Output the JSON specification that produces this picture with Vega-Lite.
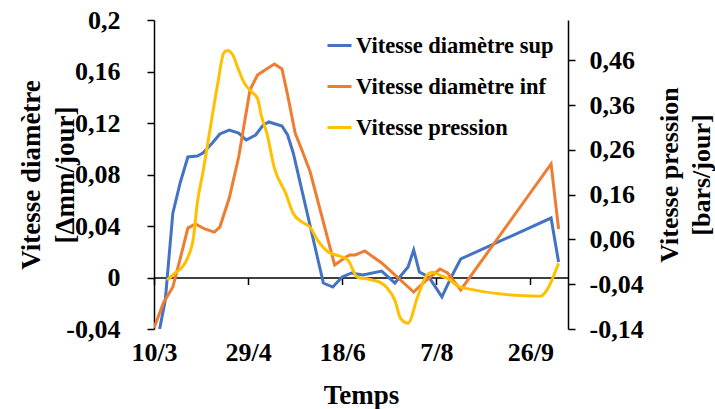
{
  "$schema": "https://vega.github.io/schema/vega-lite/v6.json",
  "width": 414,
  "height": 309,
  "autosize": {"type": "none"},
  "padding": {"left": 154, "top": 20, "right": 147, "bottom": 80},
  "background": "white",
  "config": {
    "font": "Liberation Serif",
    "view": {"stroke": null},
    "axis": {"grid": false, "domainColor": "black", "tickColor": "black", "labelColor": "black", "titleColor": "black", "labelFont": "Liberation Serif", "titleFont": "Liberation Serif", "labelFontWeight": "bold", "titleFontWeight": "bold", "labelFontSize": 26, "titleFontSize": 27, "domainWidth": 1.5, "tickWidth": 1.5}
  },
  "data": {
    "values": [
      {"d": "2019-03-13", "s": "Vitesse diamètre sup", "v": -0.04},
      {"d": "2019-03-16", "s": "Vitesse diamètre sup", "v": -0.0175},
      {"d": "2019-03-20", "s": "Vitesse diamètre sup", "v": 0.05},
      {"d": "2019-03-24", "s": "Vitesse diamètre sup", "v": 0.074},
      {"d": "2019-03-28", "s": "Vitesse diamètre sup", "v": 0.0936},
      {"d": "2019-04-02", "s": "Vitesse diamètre sup", "v": 0.0944},
      {"d": "2019-04-05", "s": "Vitesse diamètre sup", "v": 0.0967},
      {"d": "2019-04-10", "s": "Vitesse diamètre sup", "v": 0.1045},
      {"d": "2019-04-14", "s": "Vitesse diamètre sup", "v": 0.1115},
      {"d": "2019-04-19", "s": "Vitesse diamètre sup", "v": 0.1145},
      {"d": "2019-04-24", "s": "Vitesse diamètre sup", "v": 0.1122},
      {"d": "2019-04-28", "s": "Vitesse diamètre sup", "v": 0.1068},
      {"d": "2019-05-03", "s": "Vitesse diamètre sup", "v": 0.1107},
      {"d": "2019-05-07", "s": "Vitesse diamètre sup", "v": 0.1184},
      {"d": "2019-05-10", "s": "Vitesse diamètre sup", "v": 0.1208},
      {"d": "2019-05-17", "s": "Vitesse diamètre sup", "v": 0.1177},
      {"d": "2019-05-20", "s": "Vitesse diamètre sup", "v": 0.1107},
      {"d": "2019-05-23", "s": "Vitesse diamètre sup", "v": 0.0967},
      {"d": "2019-06-08", "s": "Vitesse diamètre sup", "v": -0.0043},
      {"d": "2019-06-13", "s": "Vitesse diamètre sup", "v": -0.0074},
      {"d": "2019-06-18", "s": "Vitesse diamètre sup", "v": 0.0004},
      {"d": "2019-06-23", "s": "Vitesse diamètre sup", "v": 0.0035},
      {"d": "2019-06-29", "s": "Vitesse diamètre sup", "v": 0.0019},
      {"d": "2019-07-09", "s": "Vitesse diamètre sup", "v": 0.005},
      {"d": "2019-07-16", "s": "Vitesse diamètre sup", "v": -0.0043},
      {"d": "2019-07-23", "s": "Vitesse diamètre sup", "v": 0.0082},
      {"d": "2019-07-26", "s": "Vitesse diamètre sup", "v": 0.0214},
      {"d": "2019-07-29", "s": "Vitesse diamètre sup", "v": 0.0043},
      {"d": "2019-08-03", "s": "Vitesse diamètre sup", "v": 0.0004},
      {"d": "2019-08-10", "s": "Vitesse diamètre sup", "v": -0.0151},
      {"d": "2019-08-15", "s": "Vitesse diamètre sup", "v": 0.0004},
      {"d": "2019-08-20", "s": "Vitesse diamètre sup", "v": 0.0144},
      {"d": "2019-10-07", "s": "Vitesse diamètre sup", "v": 0.0462},
      {"d": "2019-10-11", "s": "Vitesse diamètre sup", "v": 0.012},
      {"d": "2019-03-10", "s": "Vitesse diamètre inf", "v": -0.0392},
      {"d": "2019-03-15", "s": "Vitesse diamètre inf", "v": -0.0198},
      {"d": "2019-03-20", "s": "Vitesse diamètre inf", "v": -0.0074},
      {"d": "2019-03-24", "s": "Vitesse diamètre inf", "v": 0.0151},
      {"d": "2019-03-28", "s": "Vitesse diamètre inf", "v": 0.0384},
      {"d": "2019-04-01", "s": "Vitesse diamètre inf", "v": 0.0416},
      {"d": "2019-04-06", "s": "Vitesse diamètre inf", "v": 0.0377},
      {"d": "2019-04-11", "s": "Vitesse diamètre inf", "v": 0.0353},
      {"d": "2019-04-14", "s": "Vitesse diamètre inf", "v": 0.0392},
      {"d": "2019-04-19", "s": "Vitesse diamètre inf", "v": 0.0617},
      {"d": "2019-04-24", "s": "Vitesse diamètre inf", "v": 0.0936},
      {"d": "2019-04-30", "s": "Vitesse diamètre inf", "v": 0.1456},
      {"d": "2019-05-04", "s": "Vitesse diamètre inf", "v": 0.1573},
      {"d": "2019-05-08", "s": "Vitesse diamètre inf", "v": 0.1612},
      {"d": "2019-05-13", "s": "Vitesse diamètre inf", "v": 0.1658},
      {"d": "2019-05-17", "s": "Vitesse diamètre inf", "v": 0.162},
      {"d": "2019-05-20", "s": "Vitesse diamètre inf", "v": 0.1418},
      {"d": "2019-05-24", "s": "Vitesse diamètre inf", "v": 0.1122},
      {"d": "2019-05-28", "s": "Vitesse diamètre inf", "v": 0.0975},
      {"d": "2019-06-01", "s": "Vitesse diamètre inf", "v": 0.0819},
      {"d": "2019-06-14", "s": "Vitesse diamètre inf", "v": 0.0097},
      {"d": "2019-06-20", "s": "Vitesse diamètre inf", "v": 0.0159},
      {"d": "2019-06-22", "s": "Vitesse diamètre inf", "v": 0.0175},
      {"d": "2019-06-25", "s": "Vitesse diamètre inf", "v": 0.0175},
      {"d": "2019-06-30", "s": "Vitesse diamètre inf", "v": 0.0206},
      {"d": "2019-07-09", "s": "Vitesse diamètre inf", "v": 0.0113},
      {"d": "2019-07-26", "s": "Vitesse diamètre inf", "v": -0.0113},
      {"d": "2019-07-31", "s": "Vitesse diamètre inf", "v": -0.0043},
      {"d": "2019-08-09", "s": "Vitesse diamètre inf", "v": 0.0066},
      {"d": "2019-08-13", "s": "Vitesse diamètre inf", "v": 0.0035},
      {"d": "2019-08-20", "s": "Vitesse diamètre inf", "v": -0.0097},
      {"d": "2019-10-07", "s": "Vitesse diamètre inf", "v": 0.0882},
      {"d": "2019-10-11", "s": "Vitesse diamètre inf", "v": 0.0377},
      {"d": "2019-03-17", "s": "Vitesse pression", "v": -0.031},
      {"d": "2019-03-21", "s": "Vitesse pression", "v": -0.0155},
      {"d": "2019-03-25", "s": "Vitesse pression", "v": -0.002},
      {"d": "2019-03-28", "s": "Vitesse pression", "v": 0.02},
      {"d": "2019-03-31", "s": "Vitesse pression", "v": 0.065},
      {"d": "2019-04-02", "s": "Vitesse pression", "v": 0.141},
      {"d": "2019-04-05", "s": "Vitesse pression", "v": 0.21},
      {"d": "2019-04-10", "s": "Vitesse pression", "v": 0.337},
      {"d": "2019-04-13", "s": "Vitesse pression", "v": 0.411},
      {"d": "2019-04-16", "s": "Vitesse pression", "v": 0.476},
      {"d": "2019-04-18", "s": "Vitesse pression", "v": 0.482},
      {"d": "2019-04-21", "s": "Vitesse pression", "v": 0.471},
      {"d": "2019-04-24", "s": "Vitesse pression", "v": 0.438},
      {"d": "2019-04-27", "s": "Vitesse pression", "v": 0.409},
      {"d": "2019-05-01", "s": "Vitesse pression", "v": 0.389},
      {"d": "2019-05-04", "s": "Vitesse pression", "v": 0.375},
      {"d": "2019-05-06", "s": "Vitesse pression", "v": 0.337},
      {"d": "2019-05-09", "s": "Vitesse pression", "v": 0.297},
      {"d": "2019-05-13", "s": "Vitesse pression", "v": 0.219},
      {"d": "2019-05-19", "s": "Vitesse pression", "v": 0.163},
      {"d": "2019-05-23", "s": "Vitesse pression", "v": 0.118},
      {"d": "2019-05-28", "s": "Vitesse pression", "v": 0.098},
      {"d": "2019-06-01", "s": "Vitesse pression", "v": 0.087},
      {"d": "2019-06-05", "s": "Vitesse pression", "v": 0.058},
      {"d": "2019-06-11", "s": "Vitesse pression", "v": 0.031},
      {"d": "2019-06-15", "s": "Vitesse pression", "v": 0.025},
      {"d": "2019-06-21", "s": "Vitesse pression", "v": 0.014},
      {"d": "2019-06-26", "s": "Vitesse pression", "v": -0.024},
      {"d": "2019-07-02", "s": "Vitesse pression", "v": -0.029},
      {"d": "2019-07-08", "s": "Vitesse pression", "v": -0.0355},
      {"d": "2019-07-12", "s": "Vitesse pression", "v": -0.049},
      {"d": "2019-07-16", "s": "Vitesse pression", "v": -0.076},
      {"d": "2019-07-19", "s": "Vitesse pression", "v": -0.116},
      {"d": "2019-07-23", "s": "Vitesse pression", "v": -0.127},
      {"d": "2019-07-28", "s": "Vitesse pression", "v": -0.069},
      {"d": "2019-08-02", "s": "Vitesse pression", "v": -0.02},
      {"d": "2019-08-05", "s": "Vitesse pression", "v": -0.013},
      {"d": "2019-08-09", "s": "Vitesse pression", "v": -0.02},
      {"d": "2019-08-13", "s": "Vitesse pression", "v": -0.027},
      {"d": "2019-08-20", "s": "Vitesse pression", "v": -0.047},
      {"d": "2019-10-01", "s": "Vitesse pression", "v": -0.067},
      {"d": "2019-10-11", "s": "Vitesse pression", "v": 0.007}
    ]
  },
  "encoding": {
    "x": {
      "field": "d",
      "type": "temporal",
      "scale": {"type": "utc", "domain": [{"year": 2019, "month": 3, "date": 10, "utc": true}, {"year": 2019, "month": 10, "date": 16, "utc": true}]},
      "axis": {
        "orient": "bottom",
        "offset": -51.5,
        "values": [
          {"year": 2019, "month": 3, "date": 10, "utc": true},
          {"year": 2019, "month": 4, "date": 29, "utc": true},
          {"year": 2019, "month": 6, "date": 18, "utc": true},
          {"year": 2019, "month": 8, "date": 7, "utc": true},
          {"year": 2019, "month": 9, "date": 26, "utc": true}
        ],
        "labelExpr": "utcFormat(datum.value, '%-d/%-m')",
        "tickSize": 7,
        "labelPadding": 55,
        "labelFlush": false,
        "labelOverlap": false,
        "title": "Temps",
        "titleX": 207,
        "titleY": 118,
        "titleBaseline": "middle"
      }
    },
    "color": {
      "field": "s",
      "type": "nominal",
      "scale": {"domain": ["Vitesse diamètre sup", "Vitesse diamètre inf", "Vitesse pression"], "range": ["#4472C4", "#ED7D31", "#FFC000"]},
      "legend": {
        "orient": "none",
        "legendX": 172,
        "legendY": 12,
        "title": null,
        "symbolType": "stroke",
        "symbolSize": 576,
        "symbolStrokeWidth": 3,
        "labelFontSize": 22.5,
        "labelFont": "Liberation Serif",
        "labelFontWeight": "bold",
        "labelColor": "black",
        "labelLimit": 400,
        "rowPadding": 16,
        "labelOffset": 3
      }
    }
  },
  "layer": [
    {
      "transform": [{"filter": "datum.s !== 'Vitesse pression'"}],
      "mark": {"type": "line", "strokeWidth": 3, "clip": true},
      "encoding": {
        "y": {
          "field": "v",
          "type": "quantitative",
          "scale": {"domain": [-0.04, 0.2], "nice": false, "zero": false},
          "axis": {
            "orient": "left",
            "values": [-0.04, 0, 0.04, 0.08, 0.12, 0.16, 0.2],
            "labelExpr": "(datum.value < 0 ? '-' : '') + replace(format(abs(datum.value), '.2~f'), '.', ',')",
            "tickSize": 7,
            "labelPadding": 27,
            "labelFlush": false,
            "labelOverlap": false,
            "title": ["Vitesse diamètre", "[Δmm/jour]"],
            "titleX": -123,
            "titleY": 154.5,
            "titleAngle": -90,
            "titleBaseline": "middle",
            "titleLineHeight": 34
          }
        }
      }
    },
    {
      "transform": [{"filter": "datum.s === 'Vitesse pression'"}],
      "mark": {"type": "line", "strokeWidth": 3, "clip": true, "interpolate": "monotone"},
      "encoding": {
        "y": {
          "field": "v",
          "type": "quantitative",
          "scale": {"domain": [-0.14, 0.55], "nice": false, "zero": false},
          "axis": {
            "orient": "right",
            "values": [-0.14, -0.04, 0.06, 0.16, 0.26, 0.36, 0.46],
            "labelExpr": "(datum.value < 0 ? '-' : '') + replace(format(abs(datum.value), '.2~f'), '.', ',')",
            "tickSize": 7,
            "labelPadding": 14,
            "labelFlush": false,
            "labelOverlap": false,
            "title": ["Vitesse pression", "[bars/jour]"],
            "titleX": 101,
            "titleY": 154.5,
            "titleAngle": -90,
            "titleFontSize": 26,
            "titleBaseline": "middle",
            "titleLineHeight": 32
          }
        }
      }
    }
  ],
  "resolve": {"scale": {"y": "independent"}, "axis": {"y": "independent"}}
}
